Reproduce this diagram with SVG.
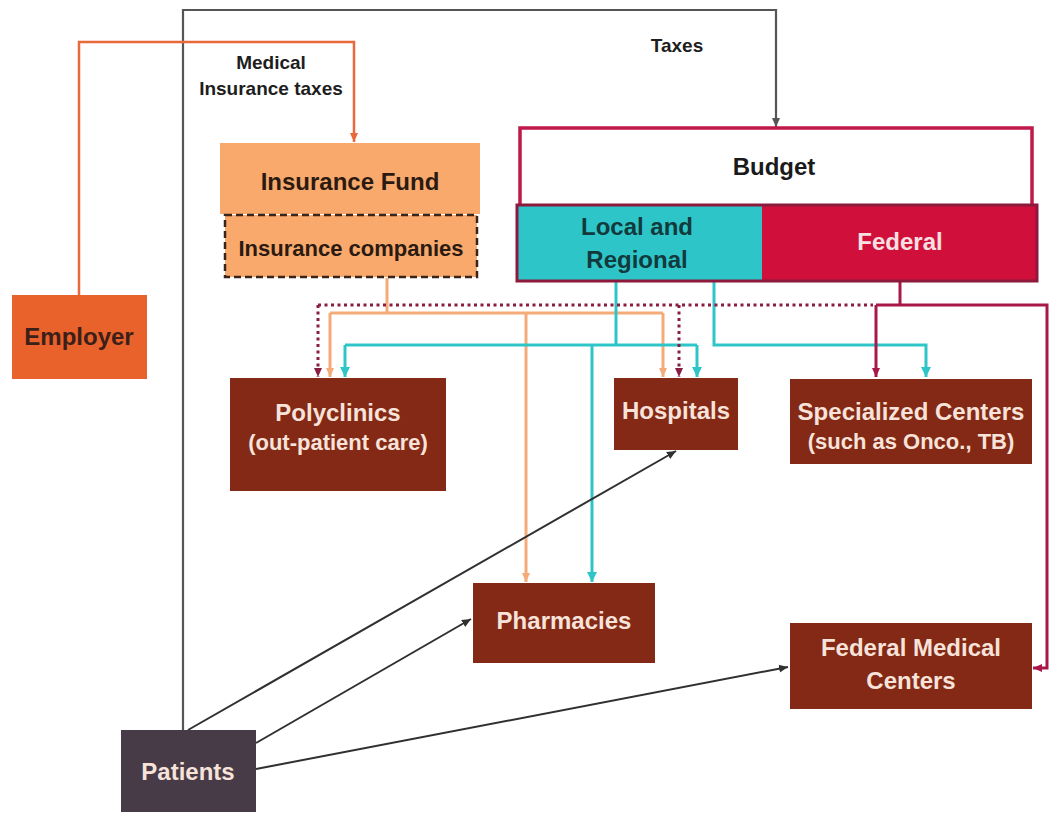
<svg xmlns="http://www.w3.org/2000/svg" width="1050" height="815" viewBox="0 0 1050 815">
<style>
  text { font-family: "Liberation Sans", Arial, sans-serif; font-weight: bold; text-anchor: middle; }
  .lbl { font-size: 19px; fill: #1e1e1e; }
  .main { font-size: 24px; }
  .sub { font-size: 22px; }
  .light { fill: #f7e3da; }
  .dark { fill: #2b1a12; }
  .brown { fill: #832915; }
  .c { fill: none; }
  .gray { stroke: #555555; stroke-width: 2.2; }
  .emp { stroke: #e8693c; stroke-width: 2.5; }
  .ins { stroke: #f4ab78; stroke-width: 3; }
  .cyan { stroke: #2ec5c9; stroke-width: 3; }
  .dot { stroke: #8a1e40; stroke-width: 3; stroke-dasharray: 3 3.5; }
  .fed { stroke: #a81848; stroke-width: 3; }
  .pat { stroke: #303030; stroke-width: 2; }
</style>
<defs>
  <marker id="aGray" markerUnits="userSpaceOnUse" markerWidth="10" markerHeight="10" refX="9" refY="5" orient="auto"><path d="M0,1 L9,5 L0,9 z" fill="#555555"/></marker>
  <marker id="aEmp" markerUnits="userSpaceOnUse" markerWidth="10" markerHeight="10" refX="9" refY="5" orient="auto"><path d="M0,1 L9,5 L0,9 z" fill="#e8693c"/></marker>
  <marker id="aIns" markerUnits="userSpaceOnUse" markerWidth="10" markerHeight="10" refX="9" refY="5" orient="auto"><path d="M0,1 L9,5 L0,9 z" fill="#f4ab78"/></marker>
  <marker id="aCyan" markerUnits="userSpaceOnUse" markerWidth="12" markerHeight="12" refX="10" refY="6" orient="auto"><path d="M0,1 L10,6 L0,11 z" fill="#2ec5c9"/></marker>
  <marker id="aDot" markerUnits="userSpaceOnUse" markerWidth="10" markerHeight="10" refX="9" refY="5" orient="auto"><path d="M0,1 L9,5 L0,9 z" fill="#8a1e40"/></marker>
  <marker id="aFed" markerUnits="userSpaceOnUse" markerWidth="10" markerHeight="10" refX="9" refY="5" orient="auto"><path d="M0,1 L9,5 L0,9 z" fill="#a81848"/></marker>
  <marker id="aPat" markerUnits="userSpaceOnUse" markerWidth="10" markerHeight="10" refX="9" refY="5" orient="auto"><path d="M0,1 L9,5 L0,9 z" fill="#303030"/></marker>
</defs>
<rect width="1050" height="815" fill="#ffffff"/>

<g id="connectors">
  <path class="c gray" d="M183,730 V10 H776 V127" marker-end="url(#aGray)"/>
  <path class="c emp" d="M79,295 V42 H354 V142" marker-end="url(#aEmp)"/>
  <path class="c ins" d="M387,278 V313"/>
  <path class="c ins" d="M330,313 H663"/>
  <path class="c ins" d="M330,313 V377" marker-end="url(#aIns)"/>
  <path class="c ins" d="M663,313 V377" marker-end="url(#aIns)"/>
  <path class="c ins" d="M526,313 V582" marker-end="url(#aIns)"/>
  <path class="c cyan" d="M616,281 V345"/>
  <path class="c cyan" d="M345,345 H697"/>
  <path class="c cyan" d="M345,345 V377" marker-end="url(#aCyan)"/>
  <path class="c cyan" d="M697,345 V377" marker-end="url(#aCyan)"/>
  <path class="c cyan" d="M592,345 V582" marker-end="url(#aCyan)"/>
  <path class="c cyan" d="M714,281 V345 H926 V377" marker-end="url(#aCyan)"/>
  <path class="c dot" d="M318,305 H873"/>
  <path class="c dot" d="M318,305 V377" marker-end="url(#aDot)"/>
  <path class="c dot" d="M679,305 V377" marker-end="url(#aDot)"/>
  <path class="c fed" d="M900,282 V305"/>
  <path class="c fed" d="M876,305 H1047 V668 H1033" marker-end="url(#aFed)"/>
  <path class="c fed" d="M876,305 V377" marker-end="url(#aFed)"/>
  <path class="c pat" d="M188,730 L676,451" marker-end="url(#aPat)"/>
  <path class="c pat" d="M256,743 L471,619" marker-end="url(#aPat)"/>
  <path class="c pat" d="M256,769 L788,667" marker-end="url(#aPat)"/>
  <text class="lbl" x="271" y="69">Medical</text>
  <text class="lbl" x="271" y="95">Insurance taxes</text>
  <text class="lbl" x="677" y="52">Taxes</text>
</g>

<g id="employer">
  <rect x="12" y="295" width="135" height="84" fill="#e9612b"/>
  <text class="main" x="79" y="345" fill="#3b1f18">Employer</text>
</g>

<g id="insurance-fund">
  <rect x="220" y="143" width="260" height="71" fill="#f8a96b"/>
  <text class="main dark" x="350" y="190">Insurance Fund</text>
</g>

<g id="insurance-companies">
  <rect x="225" y="215" width="252" height="62" fill="#f8a96b" stroke="#3a2418" stroke-width="2.5" stroke-dasharray="7 4"/>
  <text class="sub dark" x="351" y="256">Insurance companies</text>
</g>

<g id="budget">
  <rect x="520" y="128" width="512" height="78" fill="#ffffff" stroke="#c0184a" stroke-width="3.5"/>
  <text class="main" x="774" y="175" fill="#1a1a1a">Budget</text>
</g>

<g id="local-regional">
  <rect x="517" y="205" width="245" height="76" fill="#2ec5c9"/>
  <text class="main" x="637" y="235" fill="#123a3c">Local and</text>
  <text class="main" x="637" y="268" fill="#123a3c">Regional</text>
</g>

<g id="federal">
  <rect x="762" y="205" width="275" height="76" fill="#d0103a"/>
  <text class="main" x="900" y="250" fill="#f8e0e2">Federal</text>
</g>
<rect x="517" y="205" width="520" height="76" fill="none" stroke="#8c1a3c" stroke-width="3"/>

<g id="polyclinics">
  <rect class="brown" x="230" y="378" width="216" height="113"/>
  <text class="main light" x="338" y="421">Polyclinics</text>
  <text class="sub light" x="338" y="450">(out-patient care)</text>
</g>

<g id="hospitals">
  <rect class="brown" x="614" y="378" width="124" height="72"/>
  <text class="main light" x="676" y="419">Hospitals</text>
</g>

<g id="specialized-centers">
  <rect class="brown" x="790" y="379" width="242" height="85"/>
  <text class="main light" x="911" y="420">Specialized Centers</text>
  <text class="sub light" x="911" y="449">(such as Onco., TB)</text>
</g>

<g id="pharmacies">
  <rect class="brown" x="473" y="583" width="182" height="80"/>
  <text class="main light" x="564" y="629">Pharmacies</text>
</g>

<g id="federal-medical-centers">
  <rect class="brown" x="790" y="623" width="242" height="86"/>
  <text class="main light" x="911" y="656">Federal Medical</text>
  <text class="main light" x="911" y="689">Centers</text>
</g>

<g id="patients">
  <rect x="121" y="730" width="135" height="82" fill="#463b46"/>
  <text class="main light" x="188" y="780">Patients</text>
</g>
</svg>
